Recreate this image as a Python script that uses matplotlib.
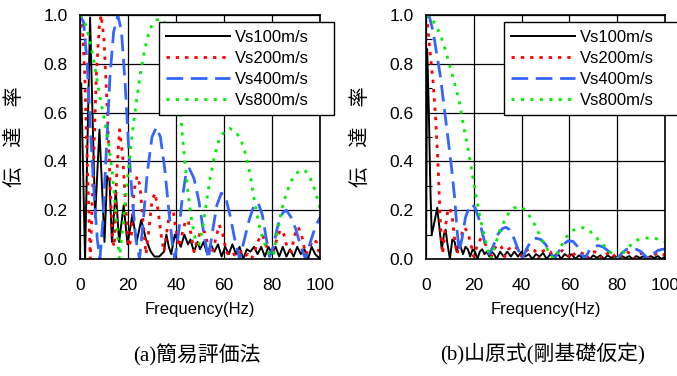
import matplotlib
matplotlib.use("Agg")
import matplotlib.pyplot as plt
from matplotlib.ticker import MultipleLocator

plt.rcParams['font.family'] = ['Liberation Sans', 'Noto Sans CJK JP']
plt.rcParams['lines.scale_dashes'] = False

labels = ["Vs100m/s", "Vs200m/s", "Vs400m/s", "Vs800m/s"]
captions = ["(a)簡易評価法", "(b)山原式(剛基礎仮定)"]

# (a) simple evaluation
a100_f = [0, 0.5, 2.1, 4.2, 6.3, 8.1, 10.2, 11.3, 12.3, 13.3, 14.9, 16.3, 18.2, 19.8, 21.8, 23.6,
          25.5, 27.5, 29.5, 31, 33, 35, 36, 37, 38, 39.5, 41, 42, 43.5, 45, 46, 47.5, 49, 50, 51.5,
          53, 54.5, 56, 57.5, 59, 60.5, 62, 63.5, 65, 66.5, 68, 69.5, 71, 72.5, 74, 75.5, 77, 78.5,
          80, 81.5, 83, 84.5, 86, 87.5, 89, 90.5, 92, 93.5, 95, 96.5, 98, 100]
a100_v = [0.70, 0.72, 0.0, 0.99, 0.17, 0.53, 0.07, 0.34, 0.32, 0.07, 0.28, 0.07, 0.22, 0.06, 0.18, 0.07,
          0.16, 0.08, 0.03, 0.01, 0.01, 0.03, 0.10, 0.05, 0.02, 0.10, 0.07, 0.05, 0.10, 0.06, 0.08, 0.03,
          0.07, 0.04, 0.07, 0.02, 0.06, 0.03, 0.06, 0.01, 0.05, 0.02, 0.06, 0.02, 0.05, 0.0, 0.04, 0.03,
          0.05, 0.02, 0.05, 0.01, 0.05, 0.02, 0.05, 0.01, 0.05, 0.01, 0.04, 0.01, 0.05, 0.02, 0.04, 0.0,
          0.05, 0.02, 0.0]

a200_f = [0, 1, 2, 3, 4.3, 5.5, 6.8, 8, 8.8, 10, 11.2, 12.4, 13.5, 14.3, 15.3, 16.5, 17.8, 19, 20.3,
          21.3, 22.5, 23.8, 25, 26.3, 27.5, 28.7, 30, 31.3, 32.5, 33.8, 35, 36.3, 37.5, 38.8, 40, 41.3,
          42.5, 43.8, 45, 46.3, 47.5, 49, 50.5, 52, 53.5, 55, 56.5, 58, 59.5, 61, 62.5, 64, 65.5, 67,
          68.5, 70, 71.5, 73, 74.5, 76, 77.5, 79, 80.5, 82, 83.5, 85, 86.5, 88, 89.5, 91, 92.5, 94,
          95.5, 97, 98.5, 100]
a200_v = [1.0, 0.95, 0.75, 0.4, 0.0, 0.35, 0.75, 0.95, 1.0, 0.9, 0.65, 0.35, 0.08, 0.05, 0.35, 0.53,
          0.42, 0.22, 0.05, 0.08, 0.28, 0.34, 0.3, 0.15, 0.02, 0.12, 0.24, 0.27, 0.2, 0.1, 0.03, 0.12,
          0.2, 0.2, 0.12, 0.05, 0.1, 0.15, 0.16, 0.1, 0.03, 0.08, 0.12, 0.11, 0.05, 0.02, 0.08, 0.14,
          0.1, 0.03, 0.01, 0.02, 0.01, 0.03, 0.01, 0.02, 0.0, 0.04, 0.08, 0.1, 0.06, 0.01, 0.03, 0.08,
          0.12, 0.1, 0.04, 0.03, 0.1, 0.13, 0.09, 0.02, 0.04, 0.08, 0.07, 0.01]

a400_f = [0, 1.5, 3, 4.5, 6, 7.2, 8.3, 9.5, 11, 12.5, 14, 15.8, 17.3, 18.8, 20.3, 21.8, 23.3, 24.8,
          26.3, 28, 30, 31.8, 33.5, 35.3, 37, 38.5, 39.5, 41, 42.5, 44, 45.6, 47.5, 49.5, 51.5, 53.5,
          55, 57, 58.9, 60.5, 62.5, 64.5, 66.5, 68.5, 70.5, 72.5, 74.2, 76, 77.5, 79, 80.5, 82.5, 84.5,
          86, 88, 90, 92, 94, 96, 98, 100]
a400_v = [1.0, 0.97, 0.8, 0.5, 0.25, 0.08, 0.0, 0.15, 0.45, 0.75, 0.93, 1.0, 0.93, 0.72, 0.45, 0.25,
          0.08, 0.0, 0.15, 0.35, 0.5, 0.54, 0.5, 0.37, 0.2, 0.06, 0.0, 0.1, 0.24, 0.34, 0.37, 0.33, 0.24,
          0.11, 0.0, 0.1, 0.22, 0.27, 0.26, 0.18, 0.08, 0.0, 0.08, 0.16, 0.22, 0.23, 0.18, 0.09, 0.01,
          0.05, 0.14, 0.19, 0.2, 0.17, 0.12, 0.05, 0.0, 0.07, 0.13, 0.17]

a800_f = [0, 2, 4, 6, 8, 10, 12, 13.5, 15, 16.4, 18, 19.5, 21, 22.5, 24, 25.5, 27, 28.5, 30, 32, 34,
          36, 37.5, 39, 40.5, 42, 43.5, 45, 46.5, 48, 49.5, 51, 52.5, 54, 56, 58, 60, 62.5, 65, 67, 69,
          71, 73, 75, 77, 79, 80.5, 82, 84, 86, 88, 90, 92, 94, 96, 98, 100]
a800_v = [1.0, 0.97, 0.9, 0.8, 0.68, 0.58, 0.47, 0.35, 0.18, 0.0, 0.15, 0.3, 0.45, 0.57, 0.68, 0.78,
          0.86, 0.92, 0.96, 0.98, 0.985, 0.96, 0.91, 0.85, 0.72, 0.58, 0.42, 0.27, 0.16, 0.08, 0.06,
          0.12, 0.22, 0.32, 0.42, 0.49, 0.52, 0.535, 0.52, 0.49, 0.43, 0.34, 0.22, 0.12, 0.06, 0.02,
          0.01, 0.1, 0.2, 0.27, 0.32, 0.35, 0.365, 0.36, 0.33, 0.28, 0.21]

# (b) Yamahara formula (rigid foundation)
b100_f = [0, 0.5, 1.2, 1.8, 2.4, 3.5, 4.7, 5.7, 6.6, 7.5, 8.2, 9, 10, 11, 12, 12.8, 13.6, 14.5, 15.5,
          16.5, 17.5, 18.5, 19.5, 20.5, 21.5, 22.5, 23.5, 24.5, 25.5, 26.5, 27.5, 28.5, 29.5, 31, 32.5,
          34, 35.5, 37, 38.5, 40, 41.5, 43, 44.5, 46, 47.5, 49, 50.5, 52, 53.5, 55, 56.5, 58, 59.5, 61,
          62.5, 64, 65.5, 67, 68.5, 70, 71.5, 73, 74.5, 76, 77.5, 79, 80.5, 82, 83.5, 85, 86.5, 88,
          89.5, 91, 92.5, 94, 95.5, 97, 98.5, 100]
b100_v = [0.1, 0.86, 0.6, 0.3, 0.1, 0.15, 0.21, 0.12, 0.04, 0.1, 0.12, 0.06, 0.0, 0.08, 0.07, 0.03,
          0.06, 0.05, 0.02, 0.05, 0.04, 0.01, 0.04, 0.03, 0.0, 0.03, 0.04, 0.02, 0.03, 0.01, 0.03, 0.02,
          0.0, 0.03, 0.01, 0.03, 0.01, 0.03, 0.01, 0.03, 0.01, 0.02, 0.0, 0.02, 0.01, 0.025, 0.0, 0.02,
          0.01, 0.025, 0.0, 0.02, 0.01, 0.02, 0.0, 0.015, 0.005, 0.015, 0.0, 0.015, 0.005, 0.015, 0.0,
          0.015, 0.005, 0.012, 0.0, 0.012, 0.004, 0.012, 0.0, 0.012, 0.004, 0.012, 0.0, 0.012, 0.004,
          0.012, 0.0, 0.01]

b200_f = [0, 0.5, 1, 2, 3, 4, 4.7, 5.2, 5.7, 6.3, 7, 8, 9, 10, 11, 12, 13, 14.5, 16, 17.5, 19, 20,
          21.5, 23, 24.5, 26, 27, 28.5, 30, 31.5, 33, 34.5, 36.5, 38.5, 40, 41.5, 43.5, 45.5, 47, 48.5,
          50.5, 52, 53.5, 55, 57, 59, 60.5, 62, 64, 66, 67, 68.5, 70.5, 72.5, 73.5, 75.5, 77.5, 79,
          80.5, 82, 84, 86, 87, 89, 91, 92.5, 94, 96, 98, 100]
b200_v = [1.0, 0.98, 0.92, 0.82, 0.72, 0.58, 0.45, 0.35, 0.22, 0.1, 0.02, 0.12, 0.19, 0.21, 0.17,
          0.08, 0.02, 0.09, 0.13, 0.11, 0.05, 0.01, 0.06, 0.085, 0.07, 0.03, 0.0, 0.04, 0.06, 0.05,
          0.01, 0.04, 0.055, 0.04, 0.01, 0.03, 0.045, 0.035, 0.0, 0.03, 0.04, 0.03, 0.0, 0.02, 0.035,
          0.025, 0.0, 0.02, 0.03, 0.02, 0.0, 0.02, 0.03, 0.02, 0.0, 0.02, 0.03, 0.01, 0.0, 0.02, 0.03,
          0.02, 0.0, 0.02, 0.025, 0.01, 0.0, 0.02, 0.025, 0.015]

b400_f = [0, 1.5, 3, 4.5, 6, 7.5, 9, 10.5, 12, 13, 13.8, 15, 16.5, 18, 19.3, 20.5, 22, 23.5, 25, 26.5,
          28, 30, 32, 33.5, 35, 37, 38.5, 40.2, 42, 44, 46, 48, 50, 52, 53.6, 55.5, 57.5, 59.5, 61.5,
          63.5, 65, 66.5, 68, 70, 72, 74, 76, 78, 80, 82, 84, 86, 88, 90, 92, 93.3, 95, 97, 99, 100]
b400_v = [1.0, 0.99, 0.93, 0.84, 0.75, 0.63, 0.51, 0.39, 0.25, 0.12, 0.03, 0.08, 0.17, 0.21, 0.225,
          0.21, 0.17, 0.11, 0.05, 0.02, 0.05, 0.1, 0.125, 0.13, 0.12, 0.08, 0.04, 0.0, 0.04, 0.075,
          0.085, 0.08, 0.06, 0.03, 0.0, 0.03, 0.06, 0.075, 0.072, 0.05, 0.02, 0.0, 0.03, 0.05, 0.055,
          0.05, 0.035, 0.015, 0.0, 0.025, 0.04, 0.045, 0.04, 0.03, 0.01, 0.0, 0.02, 0.035, 0.04, 0.04]

b800_f = [0, 2, 4, 6, 8, 10, 12, 14, 16, 18, 20, 22, 24, 25.5, 27, 29, 31, 33, 35, 37, 39, 41, 43,
          45, 47, 49, 51, 53.5, 56, 58, 60, 62, 64, 66, 68, 70, 72, 74, 76, 78, 80.5, 83, 85, 87, 89,
          91, 94, 96, 98, 100]
b800_v = [1.0, 0.99, 0.96, 0.92, 0.86, 0.79, 0.72, 0.64, 0.53, 0.43, 0.31, 0.2, 0.11, 0.05, 0.0,
          0.06, 0.12, 0.16, 0.195, 0.21, 0.215, 0.205, 0.18, 0.15, 0.11, 0.07, 0.035, 0.0, 0.04, 0.08,
          0.105, 0.12, 0.128, 0.128, 0.12, 0.1, 0.08, 0.06, 0.04, 0.02, 0.0, 0.03, 0.05, 0.07, 0.08,
          0.085, 0.087, 0.084, 0.078, 0.07]

styles = [
    dict(color='black', lw=1.4, ls='-'),
    dict(color='#ff0000', lw=2.0, dashes=(2.4, 4.3)),
    dict(color='#3366ff', lw=2.0, dashes=(12, 5.5)),
    dict(color='#00ee00', lw=2.0, dashes=(2.2, 4.6)),
]

panels = [
    [(a100_f, a100_v), (a200_f, a200_v), (a400_f, a400_v), (a800_f, a800_v)],
    [(b100_f, b100_v), (b200_f, b200_v), (b400_f, b400_v), (b800_f, b800_v)],
]

fig = plt.figure(figsize=(6.77, 3.76), dpi=100)
ax_pos = [[80 / 677, 117 / 376, 240 / 677, 244 / 376],
          [426 / 677, 117 / 376, 239 / 677, 244 / 376]]

for i in range(2):
    ax = fig.add_axes(ax_pos[i])
    for (f, v), st, lab in zip(panels[i], styles, labels):
        ax.plot(f, v, label=lab, **st)
    ax.set_xlim(0, 100)
    ax.set_ylim(0, 1.0)
    ax.set_xticks([0, 20, 40, 60, 80, 100])
    ax.set_yticks([0, 0.2, 0.4, 0.6, 0.8, 1.0])
    ax.set_yticklabels(['0.0', '0.2', '0.4', '0.6', '0.8', '1.0'])
    ax.yaxis.set_minor_locator(MultipleLocator(0.1))
    ax.tick_params(which='major', length=0, labelsize=12.5)
    ax.tick_params(axis='x', pad=14)
    ax.tick_params(axis='y', pad=9)
    ax.tick_params(axis='y', which='minor', direction='in', length=4, width=0.8)
    ax.grid(True, which='major', color='black', lw=0.9)
    ax.set_axisbelow(True)
    for s in ax.spines.values():
        s.set_linewidth(1.2)
    ax.set_xlabel('Frequency(Hz)', fontsize=12, labelpad=6)
    ax.set_ylabel('伝\u3000達\u3000率', fontsize=14.5, labelpad=14)
    x0 = 0.329 if i == 0 else 0.326
    leg = ax.legend(loc='upper left', bbox_to_anchor=(x0, 0.0, 1.058 - x0, 0.971),
                    mode='expand', fontsize=12, handlelength=3.8, handletextpad=0.3,
                    labelspacing=0.36, borderpad=0.45, fancybox=False, framealpha=1,
                    edgecolor='black', borderaxespad=0)
    leg.get_frame().set_linewidth(1.0)
    leg.set_clip_on(False)
    fig.text(ax_pos[i][0] + ax_pos[i][2] / 2 - 0.005, 0.056, captions[i], ha='center', va='center',
             fontsize=15, family=['Liberation Serif', 'Noto Sans CJK JP'])

fig.savefig('out.png', dpi=100)
